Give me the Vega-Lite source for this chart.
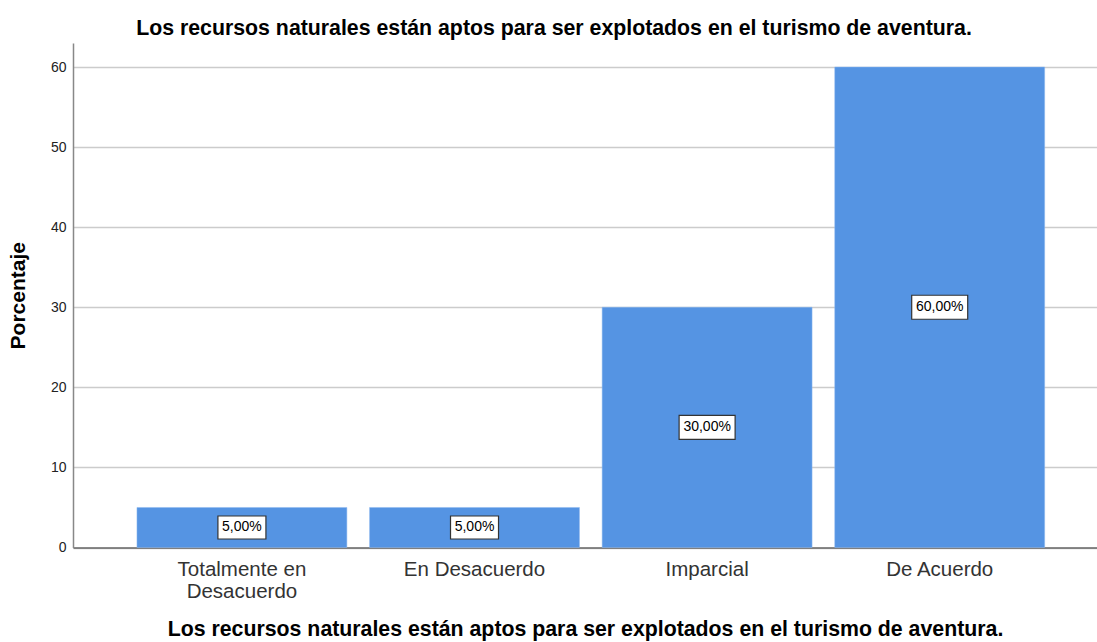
{
  "$schema": "https://vega.github.io/schema/vega-lite/v6.json",
  "width": 1024,
  "height": 504.5,
  "autosize": {"type": "none"},
  "padding": {"left": 73, "top": 43, "right": 0, "bottom": 94},
  "background": "white",
  "config": {"view": {"stroke": null}, "font": "Liberation Sans"},
  "title": {
    "text": "Los recursos naturales están aptos para ser explotados en el turismo de aventura.",
    "fontSize": 21.3,
    "fontWeight": "bold",
    "color": "#000000",
    "anchor": "middle",
    "dx": -31,
    "offset": 4,
    "font": "Liberation Sans"
  },
  "data": {
    "values": [
      {"categoria": "Totalmente en Desacuerdo", "porcentaje": 5, "etiqueta": "5,00%"},
      {"categoria": "En Desacuerdo", "porcentaje": 5, "etiqueta": "5,00%"},
      {"categoria": "Imparcial", "porcentaje": 30, "etiqueta": "30,00%"},
      {"categoria": "De Acuerdo", "porcentaje": 60, "etiqueta": "60,00%"}
    ]
  },
  "resolve": {"scale": {"y": "independent"}, "axis": {"y": "independent"}},
  "encoding": {
    "x": {
      "field": "categoria",
      "type": "nominal",
      "sort": null,
      "scale": {"paddingInner": 0.0975, "paddingOuter": 0.25, "align": 0.55},
      "axis": {
        "title": "Los recursos naturales están aptos para ser explotados en el turismo de aventura.",
        "titleFontSize": 21.3,
        "titleFontWeight": "bold",
        "titleColor": "#000000",
        "titlePadding": 16,
        "labelAngle": 0,
        "labelFontSize": 20.5,
        "labelColor": "#333333",
        "labelPadding": 12,
        "labelLineHeight": 22,
        "labelExpr": "datum.value == 'Totalmente en Desacuerdo' ? ['Totalmente en', 'Desacuerdo'] : datum.value",
        "ticks": false,
        "domainColor": "#666666",
        "domainWidth": 1.5,
        "grid": false
      }
    }
  },
  "layer": [
    {
      "mark": {"type": "bar", "color": "#5594E3", "stroke": "#8fb8ee", "strokeWidth": 0.5},
      "encoding": {
        "y": {
          "field": "porcentaje",
          "type": "quantitative",
          "scale": {"domain": [0, 63], "nice": false},
          "axis": {
            "title": "Porcentaje",
            "titleFontSize": 21,
            "titleFontWeight": "bold",
            "titleColor": "#000000",
            "titlePadding": 22,
            "values": [0, 10, 20, 30, 40, 50, 60],
            "labelFontSize": 14,
            "labelColor": "#222222",
            "labelPadding": 7,
            "ticks": false,
            "domainColor": "#888888",
            "domainWidth": 1.5,
            "gridColor": "#cccccc",
            "gridWidth": 1.5
          }
        }
      }
    },
    {
      "encoding": {
        "y": {
          "field": "porcentaje",
          "type": "quantitative",
          "scale": {"domain": [0, 126], "nice": false},
          "axis": null
        }
      },
      "layer": [
        {
          "mark": {"type": "point", "filled": true, "fill": "white", "stroke": "#333333", "strokeWidth": 1.2, "size": 10000, "opacity": 1},
          "encoding": {
            "shape": {
              "field": "etiqueta",
              "type": "nominal",
              "scale": {
                "domain": ["5,00%", "30,00%", "60,00%"],
                "range": ["M-0.48,-0.23H0.48V0.23H-0.48Z", "M-0.56,-0.24H0.56V0.24H-0.56Z", "M-0.56,-0.24H0.56V0.24H-0.56Z"]
              },
              "legend": null
            }
          }
        },
        {
          "mark": {"type": "text", "fontSize": 14, "color": "#000000", "baseline": "middle", "align": "center"},
          "encoding": {
            "text": {"field": "etiqueta"}
          }
        }
      ]
    }
  ]
}
